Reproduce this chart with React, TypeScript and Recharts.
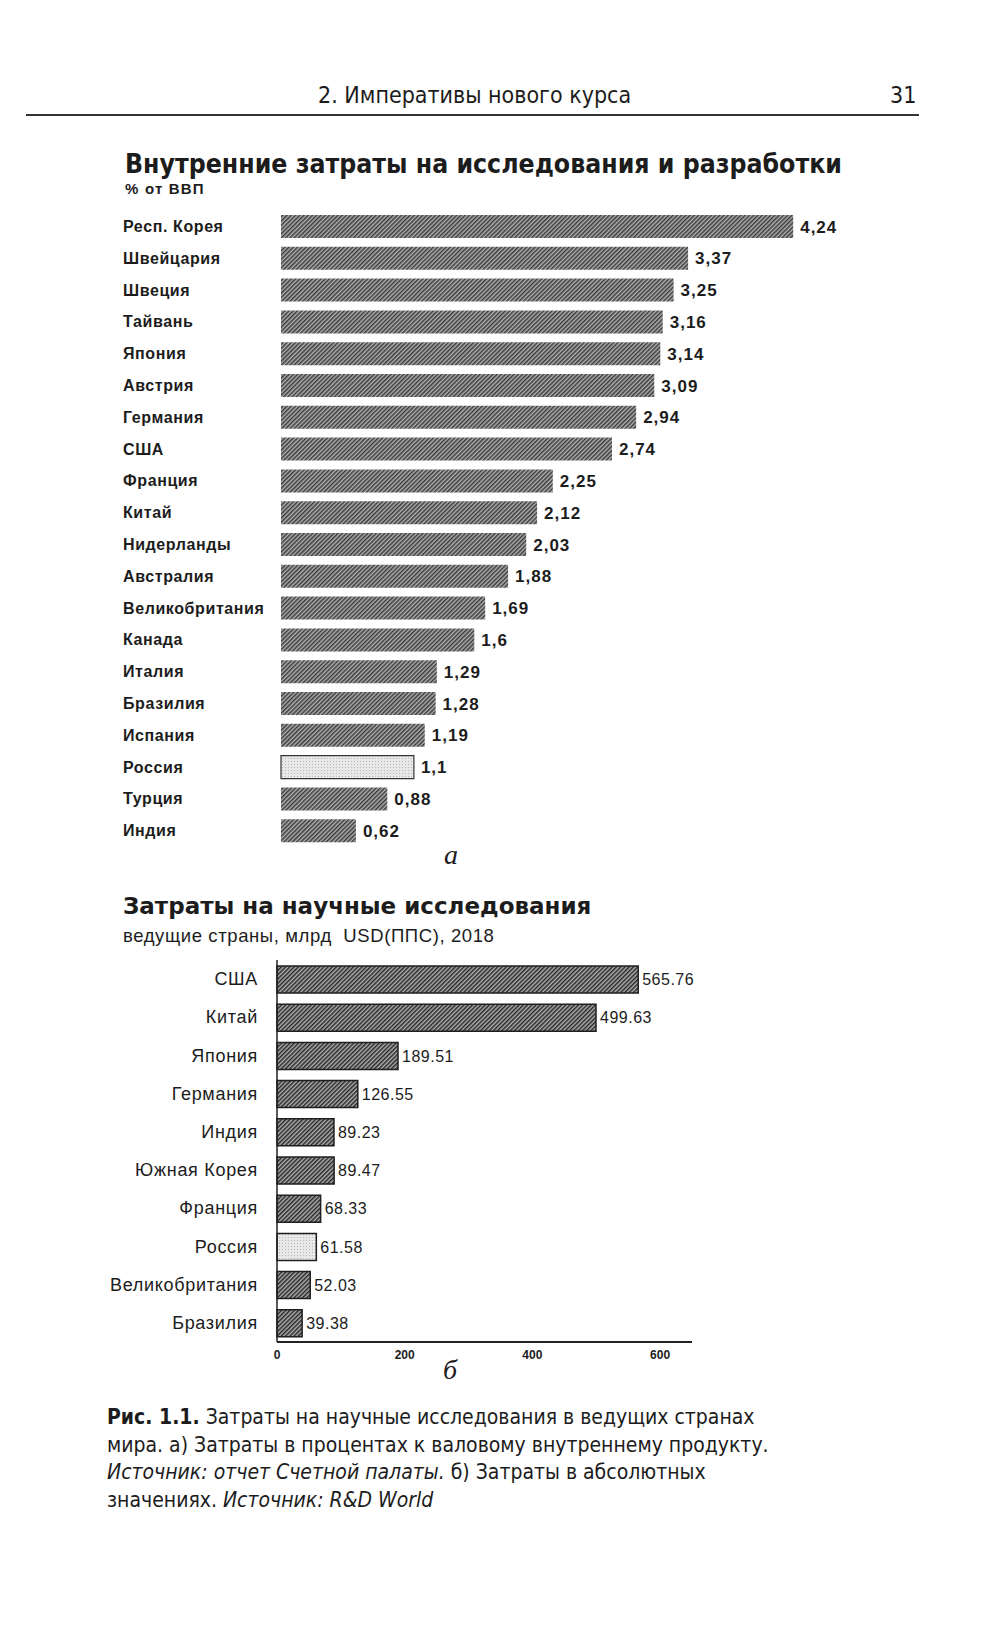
import React from 'react';
import { BarChart, Bar, XAxis, YAxis, Cell, LabelList } from 'recharts';

// chart a: % of GDP
const shareCountries = [
  'Респ. Корея', 'Швейцария', 'Швеция', 'Тайвань', 'Япония', 'Австрия', 'Германия', 'США',
  'Франция', 'Китай', 'Нидерланды', 'Австралия', 'Великобритания', 'Канада', 'Италия',
  'Бразилия', 'Испания', 'Россия', 'Турция', 'Индия',
];
const shareValues = [
  4.24, 3.37, 3.25, 3.16, 3.14, 3.09, 2.94, 2.74, 2.25, 2.12, 2.03, 1.88, 1.69, 1.6, 1.29,
  1.28, 1.19, 1.1, 0.88, 0.62,
];

// chart b: bn USD (PPP), 2018
const spendCountries = [
  'США', 'Китай', 'Япония', 'Германия', 'Индия', 'Южная Корея', 'Франция', 'Россия',
  'Великобритания', 'Бразилия',
];
const spendValues = [565.76, 499.63, 189.51, 126.55, 89.23, 89.47, 68.33, 61.58, 52.03, 39.38];
const spendTicks = [0, 200, 400, 600];

const highlight = 'Россия';

const shareData = shareCountries.map((name, i) => ({ name, value: shareValues[i] }));
const spendData = spendCountries.map((name, i) => ({ name, value: spendValues[i] }));

const ink = '#1c1c1c';
const narrow = '"Liberation Sans Narrow", "DejaVu Sans Condensed", "Roboto", sans-serif';
const arial = '"Liberation Sans", Arial, sans-serif';
const dejavu = '"DejaVu Sans", sans-serif';

const Patterns = ({ prefix, dark }: { prefix: string; dark: string }) => (
  <defs>
    <pattern id={`${prefix}-hatch`} width="3" height="3" patternUnits="userSpaceOnUse" patternTransform="rotate(45)">
      <rect width="3" height="3" fill="#b0b0b0" />
      <rect width="1.5" height="3" fill={dark} />
    </pattern>
    <pattern id={`${prefix}-light`} width="3" height="3" patternUnits="userSpaceOnUse">
      <rect width="3" height="3" fill="#e8e8e8" />
      <rect width="1" height="1" fill="#b8b8b8" />
    </pattern>
  </defs>
);

const ShareTick = (props: any) => (
  <text x={123} y={props.y} dy={5} textAnchor="start" fontFamily={arial} fontWeight="bold" fontSize={16} letterSpacing={0.6} fill={ink}>
    {props.payload.value}
  </text>
);

const SpendTick = (props: any) => (
  <text x={258} y={props.y} dy={6} textAnchor="end" fontFamily={arial} fontSize={18} letterSpacing={0.7} fill={ink}>
    {props.payload.value}
  </text>
);

export default function App() {
  return (
    <div style={{ position: 'absolute', left: 0, top: 0, width: 1000, height: 1632, background: '#fff', color: ink }}>
      <div style={{ position: 'absolute', left: 318, top: 82, fontFamily: narrow, fontSize: 23 }}>
        2. Императивы нового курса
      </div>
      <div style={{ position: 'absolute', left: 890, top: 82, fontFamily: narrow, fontSize: 23 }}>31</div>
      <div style={{ position: 'absolute', left: 26, top: 114, width: 893, height: 2, background: '#333' }} />

      <div style={{ position: 'absolute', left: 125, top: 148, fontFamily: narrow, fontWeight: 'bold', fontSize: 26.4 }}>
        Внутренние затраты на исследования и разработки
      </div>
      <div style={{ position: 'absolute', left: 125, top: 180, fontFamily: arial, fontWeight: 'bold', fontSize: 15, letterSpacing: 1.2 }}>
        % от ВВП
      </div>

      <div style={{ position: 'absolute', left: 0, top: 200 }}>
        <BarChart
          width={900}
          height={660}
          layout="vertical"
          data={shareData}
          margin={{ top: 11, right: 15, bottom: 13, left: 0 }}
          barCategoryGap={0}
        >
          <Patterns prefix="a" dark="#3a3a3a" />
          <XAxis type="number" domain={[0, 5]} hide />
          <YAxis type="category" dataKey="name" width={281} axisLine={false} tickLine={false} tick={ShareTick} interval={0} />
          <Bar dataKey="value" barSize={23} isAnimationActive={false}>
            {shareData.map((d) => (
              <Cell
                key={d.name}
                fill={d.name === highlight ? 'url(#a-light)' : 'url(#a-hatch)'}
                stroke={d.name === highlight ? '#333' : 'none'}
                strokeWidth={1.2}
              />
            ))}
            <LabelList
              dataKey="value"
              position="right"
              offset={7}
              formatter={(v: any) => String(v).replace('.', ',')}
              style={{ fontFamily: arial, fontWeight: 'bold', fontSize: 17, letterSpacing: 1, fill: ink }}
            />
          </Bar>
        </BarChart>
      </div>

      <div style={{ position: 'absolute', left: 444, top: 839, fontFamily: '"Liberation Serif", serif', fontStyle: 'italic', fontSize: 28 }}>
        а
      </div>

      <div style={{ position: 'absolute', left: 123, top: 893, fontFamily: dejavu, fontWeight: 'bold', fontSize: 23 }}>
        Затраты на научные исследования
      </div>
      <div style={{ position: 'absolute', left: 123, top: 925, fontFamily: arial, fontSize: 18.5, letterSpacing: 0.6 }}>
        ведущие страны, млрд&nbsp; USD(ППС), 2018
      </div>

      <div style={{ position: 'absolute', left: 0, top: 946 }}>
        <BarChart
          width={720}
          height={426}
          layout="vertical"
          data={spendData}
          margin={{ top: 14, right: 28, bottom: 0, left: 0 }}
          barCategoryGap={0}
        >
          <Patterns prefix="b" dark="#262626" />
          <XAxis
            type="number"
            domain={[0, 650]}
            ticks={spendTicks}
            axisLine={{ stroke: '#222', strokeWidth: 2 }}
            tickLine={false}
            height={30}
            tick={{ fontFamily: arial, fontWeight: 'bold', fontSize: 12, fill: ink }}
          />
          <YAxis
            type="category"
            dataKey="name"
            width={277}
            axisLine={{ stroke: '#222', strokeWidth: 1.5 }}
            tickLine={false}
            tick={SpendTick}
            interval={0}
          />
          <Bar dataKey="value" barSize={27} isAnimationActive={false}>
            {spendData.map((d) => (
              <Cell
                key={d.name}
                fill={d.name === highlight ? 'url(#b-light)' : 'url(#b-hatch)'}
                stroke="#1f1f1f"
                strokeWidth={1.5}
              />
            ))}
            <LabelList
              dataKey="value"
              position="right"
              offset={4}
              style={{ fontFamily: arial, fontSize: 16, letterSpacing: 0.5, fill: ink }}
            />
          </Bar>
        </BarChart>
      </div>

      <div style={{ position: 'absolute', left: 443, top: 1354, fontFamily: '"Liberation Serif", serif', fontStyle: 'italic', fontSize: 28 }}>
        б
      </div>

      <div style={{ position: 'absolute', left: 107, top: 1404, width: 820, fontFamily: narrow, fontSize: 21, lineHeight: '27.5px' }}>
        <b>Рис. 1.1.</b> Затраты на научные исследования в ведущих странах
        <br />
        мира. а) Затраты в процентах к валовому внутреннему продукту.
        <br />
        <i>Источник: отчет Счетной палаты.</i> б) Затраты в абсолютных
        <br />
        значениях. <i>Источник: R&amp;D World</i>
      </div>
    </div>
  );
}
